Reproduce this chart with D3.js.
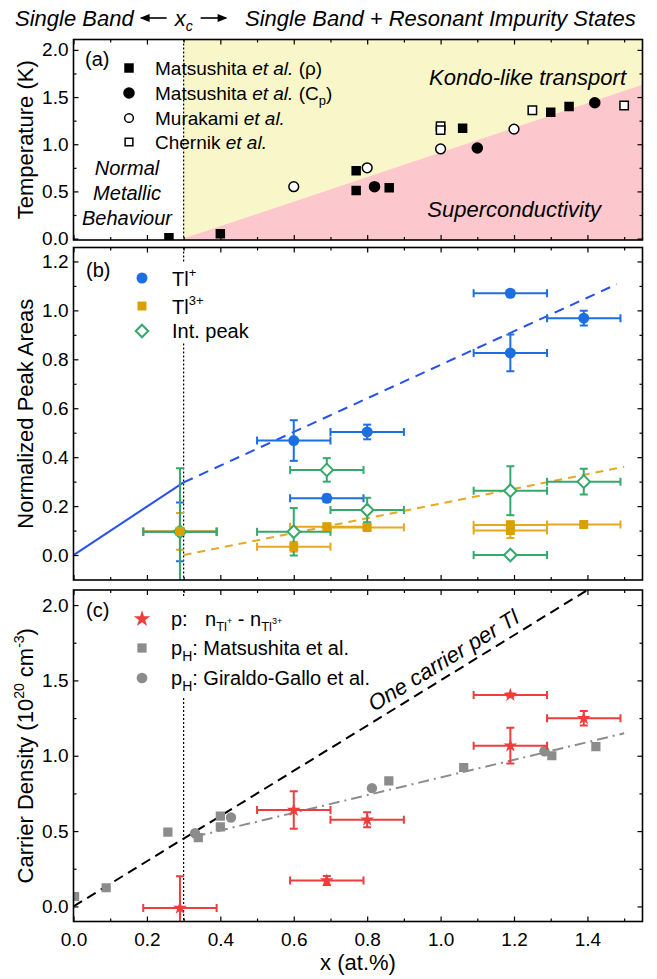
<!DOCTYPE html>
<html lang="en">
<head>
<meta charset="UTF-8">
<title>Tl doping</title>
<script src="https://cdn.jsdelivr.net/npm/d3@7"></script>
<style>
  body { margin: 0; background: #fff; }
  svg { font-family: "Liberation Sans", Arial, sans-serif; }
</style>
</head>
<body>
<script>
// ---- data (x in at.%) ----
const xMajor = [0, 0.2, 0.4, 0.6, 0.8, 1.0, 1.2, 1.4]
const xMinor = [0.1, 0.3, 0.5, 0.7, 0.9, 1.1, 1.3, 1.5]
const xc = 0.3

// (a) Tc vs x
const rhoX = [0.26, 0.40, 0.77, 0.77, 0.86, 1.06, 1.30, 1.35]
const rhoT = [0.01, 0.05, 0.72, 0.51, 0.54, 1.17, 1.34, 1.40]
const cpX = [0.82, 1.10, 1.42]
const cpT = [0.55, 0.96, 1.44]
const murakamiX = [0.60, 0.80, 1.00, 1.20]
const murakamiT = [0.55, 0.75, 0.95, 1.16]
const chernikX = [1.00, 1.00, 1.25, 1.50]
const chernikT = [1.19, 1.15, 1.36, 1.41]
const scBoundary = [[0.3, 0], [1.55, 1.63]]

// (b) normalized peak areas
const peakX = [0.29, 0.60, 0.69, 0.80, 1.19, 1.19, 1.39]
const peakXErr = [0.1, 0.1, 0.1, 0.1, 0.1, 0.1, 0.1]
const tlPlus = [0.095, 0.468, 0.232, 0.503, 1.070, 0.826, 0.968]
const tlPlusErr = [0.12, 0.083, 0.015, 0.03, 0.01, 0.075, 0.03]
const tl3Plus = [0.097, 0.034, 0.116, 0.113, 0.123, 0.100, 0.125]
const tl3PlusErr = [0.075, 0.02, 0.01, 0.015, 0.015, 0.03, 0.01]
const intPeak = [0.095, 0.095, 0.348, 0.184, 0.263, 0.0, 0.300]
const intPeakErr = [0.26, 0.097, 0.048, 0.05, 0.1, 0, 0.053]
const tlPlusLowFit = [[0, 0], [0.3, 0.297]]
const tlPlusHighFit = [[0.3, 0.297], [1.48, 1.107]]
const tl3PlusFit = [[0.3, 0.0], [1.5, 0.361]]

// (c) carrier density (1e20 cm^-3)
const holeX = [0.29, 0.60, 0.69, 0.80, 1.19, 1.19, 1.39]
const holeXErr = [0.1, 0.1, 0.1, 0.1, 0.1, 0.1, 0.1]
const holeP = [-0.01, 0.64, 0.172, 0.575, 1.403, 1.067, 1.249]
const holePErr = [0.21, 0.125, 0.03, 0.05, 0.01, 0.118, 0.048]
const matsuHallX = [0.003, 0.089, 0.257, 0.34, 0.40, 0.40, 0.859, 1.063, 1.303, 1.423]
const matsuHallP = [0.066, 0.124, 0.493, 0.457, 0.599, 0.528, 0.833, 0.922, 1.0, 1.061]
const giraldoX = [0.331, 0.429, 0.813, 1.283]
const giraldoP = [0.486, 0.59, 0.785, 1.03]
const oneCarrier = [[0, 0], [1.55, 2.325]]
const hallFit = [[0.33, 0.463], [1.5, 1.149]]

// ---- layout ----
const W = 657, H = 979
const left = 73.5, right = 642.5
const blue = '#1c6fe2', blueLine = '#2650ee', gold = '#d9a000', green = '#35a96b'
const red = '#ee3d3d', gray = '#8c8c8c'

const svg = d3.select('body').append('svg').attr('width', W).attr('height', H)
const x = d3.scaleLinear().domain([0, 1.55]).range([left, right])
const fmt = d3.format('.1f')

function panel(id, top, bottom, yDomain, yMajor, yMinor, showX) {
    const y = d3.scaleLinear().domain(yDomain).range([bottom, top])
    svg.append('clipPath').attr('id', 'clip-' + id)
        .append('rect').attr('x', left).attr('y', top)
        .attr('width', right - left).attr('height', bottom - top)
    const g = svg.append('g').attr('clip-path', `url(#clip-${id})`)
    return {y, g, top, bottom, yMajor, yMinor, showX}
}

function frame(p) {
    const y = p.y
    const axes = svg.append('g')
    const add = (axis, tr) => {
        const a = axes.append('g').attr('transform', tr).call(axis)
        a.attr('font-size', null).attr('font-family', null)
        a.select('.domain').remove()
        a.selectAll('line').attr('stroke', '#000').attr('stroke-width', 1.2)
        a.selectAll('text').attr('font-size', 19).attr('fill', '#000')
    }
    add(d3.axisBottom(x).tickValues(xMajor).tickSize(-5).tickPadding(11)
        .tickFormat(p.showX ? fmt : ''), `translate(0,${p.bottom})`)
    add(d3.axisBottom(x).tickValues(xMinor).tickSize(-3).tickFormat(''), `translate(0,${p.bottom})`)
    add(d3.axisTop(x).tickValues(xMajor).tickSize(-5).tickFormat(''), `translate(0,${p.top})`)
    add(d3.axisTop(x).tickValues(xMinor).tickSize(-3).tickFormat(''), `translate(0,${p.top})`)
    add(d3.axisLeft(y).tickValues(p.yMajor).tickSize(-5).tickPadding(5).tickFormat(fmt), `translate(${left},0)`)
    add(d3.axisLeft(y).tickValues(p.yMinor).tickSize(-3).tickFormat(''), `translate(${left},0)`)
    add(d3.axisRight(y).tickValues(p.yMajor).tickSize(-5).tickFormat(''), `translate(${right},0)`)
    add(d3.axisRight(y).tickValues(p.yMinor).tickSize(-3).tickFormat(''), `translate(${right},0)`)
    svg.append('rect').attr('x', left).attr('y', p.top)
        .attr('width', right - left).attr('height', p.bottom - p.top)
        .attr('fill', 'none').attr('stroke', '#000').attr('stroke-width', 1.6)
}

function dotted(p, from) {
    p.g.append('line').attr('x1', x(xc)).attr('x2', x(xc))
        .attr('y1', from == null ? p.top : from).attr('y2', p.bottom)
        .attr('stroke', '#000').attr('stroke-width', 1.2).attr('stroke-dasharray', '2,2')
}

function marks(p, xs, ys, type, size, fill, stroke, sw) {
    p.g.selectAll(null).data(d3.zip(xs, ys)).join('path')
        .attr('d', d3.symbol(type, size))
        .attr('transform', d => `translate(${x(d[0])},${p.y(d[1])})`)
        .attr('fill', fill).attr('stroke', stroke || 'none').attr('stroke-width', sw || 0)
}

function errors(p, xs, ys, xe, ye, color) {
    const cap = 4
    const g = p.g.append('g').attr('stroke', color).attr('stroke-width', 2).attr('fill', 'none')
    xs.forEach((xv, i) => {
        const cy = p.y(ys[i])
        const x0 = x(xv - xe[i]), x1 = x(xv + xe[i])
        g.append('line').attr('x1', x0).attr('x2', x1).attr('y1', cy).attr('y2', cy)
        g.append('line').attr('x1', x0).attr('x2', x0).attr('y1', cy - cap).attr('y2', cy + cap)
        g.append('line').attr('x1', x1).attr('x2', x1).attr('y1', cy - cap).attr('y2', cy + cap)
        if (ye[i] > 0) {
            const cx = x(xv), y0 = p.y(ys[i] - ye[i]), y1 = p.y(ys[i] + ye[i])
            g.append('line').attr('x1', cx).attr('x2', cx).attr('y1', y0).attr('y2', y1)
            g.append('line').attr('x1', cx - cap).attr('x2', cx + cap).attr('y1', y0).attr('y2', y0)
            g.append('line').attr('x1', cx - cap).attr('x2', cx + cap).attr('y1', y1).attr('y2', y1)
        }
    })
}

function fitLine(p, pts, color, width, dash) {
    p.g.append('path').datum(pts)
        .attr('d', d3.line().x(d => x(d[0])).y(d => p.y(d[1])))
        .attr('fill', 'none').attr('stroke', color).attr('stroke-width', width)
        .attr('stroke-dasharray', dash)
}

function label(t, px, py, size, opts) {
    const el = svg.append('text').attr('x', px).attr('y', py).attr('font-size', size).attr('fill', '#000')
    if (opts && opts.italic) el.attr('font-style', 'italic')
    if (opts && opts.anchor) el.attr('text-anchor', opts.anchor)
    if (t != null) el.text(t)
    return el
}

function yTitle(p, size) {
    const el = svg.append('text')
        .attr('transform', `translate(33,${(p.top + p.bottom) / 2}) rotate(-90)`)
        .attr('text-anchor', 'middle').attr('font-size', size).attr('fill', '#000')
    return el
}

// ---- top caption ----
const xcPix = x(xc)
label('Single Band', 15, 26, 22, {italic: true})
label(null, xcPix - 9, 26, 22, {italic: true})
    .call(t => { t.append('tspan').text('x'); t.append('tspan').attr('font-size', 14).attr('dy', 5).text('c') })
label('Single Band + Resonant Impurity States', 245, 26, 22, {italic: true})
svg.append('line').attr('x1', xcPix - 42).attr('x2', xcPix - 17).attr('y1', 18).attr('y2', 18)
    .attr('stroke', '#000').attr('stroke-width', 1.6)
svg.append('path').attr('d', `M${xcPix - 44},18 L${xcPix - 34},14 L${xcPix - 34},22 Z`).attr('fill', '#000')
svg.append('line').attr('x1', xcPix + 17).attr('x2', xcPix + 42).attr('y1', 18).attr('y2', 18)
    .attr('stroke', '#000').attr('stroke-width', 1.6)
svg.append('path').attr('d', `M${xcPix + 44},18 L${xcPix + 34},14 L${xcPix + 34},22 Z`).attr('fill', '#000')

// ---- (a) ----
const pa = panel('a', 39.5, 240, [-0.015, 2.11], [0, 0.5, 1.0, 1.5, 2.0], [0.25, 0.75, 1.25, 1.75], false)
pa.g.append('rect').attr('x', x(xc)).attr('y', pa.top).attr('width', right - x(xc))
    .attr('height', pa.bottom - pa.top).attr('fill', '#f9f6c9')
pa.g.append('path').datum(scBoundary)
    .attr('d', d3.area().x(d => x(d[0])).y0(pa.bottom).y1(d => pa.y(d[1])))
    .attr('fill', '#fcc8cd')
dotted(pa)
marks(pa, rhoX, rhoT, d3.symbolSquare, 90, '#000')
marks(pa, cpX, cpT, d3.symbolCircle, 105, '#000')
marks(pa, murakamiX, murakamiT, d3.symbolCircle, 75, '#fff', '#000', 1.5)
marks(pa, chernikX, chernikT, d3.symbolSquare, 70, '#fff', '#000', 1.5)
frame(pa)
label('(a)', 85, 66, 20)
label('Kondo-like transport', 626, 85, 22, {italic: true, anchor: 'end'})
label('Superconductivity', 601, 217, 22, {italic: true, anchor: 'end'})
label('Normal', 127, 175, 20, {italic: true, anchor: 'middle'})
label('Metallic', 127, 200, 20, {italic: true, anchor: 'middle'})
label('Behaviour', 127, 225, 20, {italic: true, anchor: 'middle'})
const legA = [
    {d: d3.symbolSquare, s: 90, f: '#000', st: 'none', y: 68, t: ['Matsushita ', 'et al.', ' (\u03c1)']},
    {d: d3.symbolCircle, s: 105, f: '#000', st: 'none', y: 93, t: ['Matsushita ', 'et al.', ' (C', 'p', ')']},
    {d: d3.symbolCircle, s: 60, f: '#fff', st: '#000', y: 118, t: ['Murakami ', 'et al.']},
    {d: d3.symbolSquare, s: 60, f: '#fff', st: '#000', y: 142, t: ['Chernik ', 'et al.']}
]
legA.forEach(l => {
    svg.append('path').attr('d', d3.symbol(l.d, l.s)).attr('transform', `translate(129,${l.y})`)
        .attr('fill', l.f).attr('stroke', l.st).attr('stroke-width', 1.5)
    const t = label(null, 155, l.y + 7, 19)
    t.append('tspan').text(l.t[0])
    t.append('tspan').attr('font-style', 'italic').text(l.t[1])
    if (l.t[2]) t.append('tspan').text(l.t[2])
    if (l.t[3]) {
        t.append('tspan').attr('font-size', 13).attr('dy', 5).text(l.t[3])
        t.append('tspan').attr('dy', -5).text(l.t[4])
    }
})
yTitle(pa, 22).text('Temperature (K)')

// ---- (b) ----
const pb = panel('b', 247.5, 580, [-0.102, 1.257], [0, 0.2, 0.4, 0.6, 0.8, 1.0, 1.2], [0.1, 0.3, 0.5, 0.7, 0.9, 1.1], false)
dotted(pb)
fitLine(pb, tlPlusLowFit, blueLine, 2, null)
fitLine(pb, tlPlusHighFit, blueLine, 2, '10,7')
fitLine(pb, tl3PlusFit, '#e8a820', 2, '8,6')
errors(pb, peakX, tlPlus, peakXErr, tlPlusErr, blue)
errors(pb, peakX, tl3Plus, peakXErr, tl3PlusErr, '#e4a821')
errors(pb, peakX, intPeak, peakXErr, intPeakErr, green)
marks(pb, peakX, tlPlus, d3.symbolCircle, 95, blue)
marks(pb, peakX, intPeak, d3.symbolDiamond2, 100, '#fff', green, 2)
marks(pb, peakX, tl3Plus, d3.symbolSquare, 80, gold)
svg.append('rect').attr('x', 126).attr('y', 263).attr('width', 150).attr('height', 80).attr('fill', '#fff')
frame(pb)
label('(b)', 86, 277, 20)
svg.append('path').attr('d', d3.symbol(d3.symbolCircle, 95)).attr('transform', 'translate(142,278)').attr('fill', blue)
svg.append('path').attr('d', d3.symbol(d3.symbolSquare, 80)).attr('transform', 'translate(142,306)').attr('fill', gold)
svg.append('path').attr('d', d3.symbol(d3.symbolDiamond2, 100)).attr('transform', 'translate(142,331)')
    .attr('fill', '#fff').attr('stroke', green).attr('stroke-width', 2)
label(null, 172, 286, 20).call(t => {
    t.append('tspan').text('Tl'); t.append('tspan').attr('font-size', 13).attr('dy', -9).text('+')
})
label(null, 172, 314, 20).call(t => {
    t.append('tspan').text('Tl'); t.append('tspan').attr('font-size', 13).attr('dy', -9).text('3+')
})
label('Int. peak', 172, 338, 20)
yTitle(pb, 22).text('Normalized Peak Areas')

// ---- (c) ----
const pc = panel('c', 590, 921.5, [-0.1, 2.1], [0, 0.5, 1.0, 1.5, 2.0], [0.25, 0.75, 1.25, 1.75], true)
dotted(pc)
fitLine(pc, oneCarrier, '#000', 2, '10,6')
fitLine(pc, hallFit, gray, 2, '11,5,2,5')
marks(pc, matsuHallX, matsuHallP, d3.symbolSquare, 85, gray)
marks(pc, giraldoX, giraldoP, d3.symbolCircle, 85, gray)
errors(pc, holeX, holeP, holeXErr, holePErr, red)
marks(pc, holeX, holeP, d3.symbolStar, 60, red)
svg.append('rect').attr('x', 126).attr('y', 596).attr('width', 200).attr('height', 100).attr('fill', '#fff')
frame(pc)
label('(c)', 86, 617, 20)
// rotated caption along the one-carrier line
{
    const px0 = 0.83
    const slope = (oneCarrier[1][1] - oneCarrier[0][1]) / (oneCarrier[1][0] - oneCarrier[0][0])
    const ang = Math.atan2(pc.y(slope * 1) - pc.y(0), x(1) - x(0)) * 180 / Math.PI
    svg.append('text')
        .attr('transform', `translate(${x(px0)},${pc.y(slope * px0)}) rotate(${ang}) translate(0,-8)`)
        .attr('font-size', 22).attr('font-style', 'italic').attr('fill', '#000')
        .text('One carrier per Tl')
}
svg.append('path').attr('d', d3.symbol(d3.symbolStar, 85)).attr('transform', 'translate(142,619)').attr('fill', red)
svg.append('path').attr('d', d3.symbol(d3.symbolSquare, 85)).attr('transform', 'translate(142,648)').attr('fill', gray)
svg.append('path').attr('d', d3.symbol(d3.symbolCircle, 90)).attr('transform', 'translate(142,678)').attr('fill', gray)
label('p:', 171, 626, 20)
label(null, 205, 626, 20).call(t => {
    t.append('tspan').text('n')
    t.append('tspan').attr('font-size', 13).attr('dy', 5).text('Tl')
    t.append('tspan').attr('font-size', 9).attr('dy', -7).text('+')
    t.append('tspan').attr('dy', 2).text(' - n')
    t.append('tspan').attr('font-size', 13).attr('dy', 5).text('Tl')
    t.append('tspan').attr('font-size', 9).attr('dy', -7).text('3+')
})
label(null, 171, 655, 20).call(t => {
    t.append('tspan').text('p')
    t.append('tspan').attr('font-size', 14).attr('dy', 6).text('H')
    t.append('tspan').attr('dy', -6).text(': Matsushita et al.')
})
label(null, 171, 685, 20).call(t => {
    t.append('tspan').text('p')
    t.append('tspan').attr('font-size', 14).attr('dy', 6).text('H')
    t.append('tspan').attr('dy', -6).text(': Giraldo-Gallo et al.')
})
yTitle(pc, 22).call(t => {
    t.append('tspan').text('Carrier Density (10')
    t.append('tspan').attr('font-size', 14).attr('dy', -9).text('20')
    t.append('tspan').attr('dy', 9).text(' cm')
    t.append('tspan').attr('font-size', 14).attr('dy', -9).text('-3')
    t.append('tspan').attr('dy', 9).text(')')
})
label('x (at.%)', 358, 970, 22, {anchor: 'middle'})
</script>
</body>
</html>
